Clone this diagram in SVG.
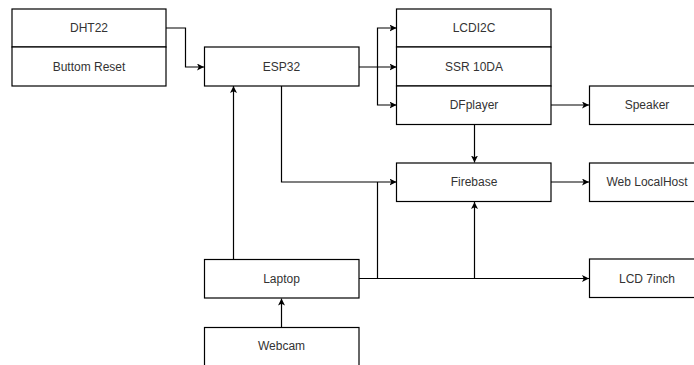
<svg xmlns="http://www.w3.org/2000/svg" width="694" height="365" viewBox="0 0 694 365">
<style>
.box{fill:#fff;stroke:#000;stroke-width:1.2}
.lbl{font-family:"Liberation Sans",Arial,sans-serif;font-size:12px;fill:#333;text-anchor:middle;dominant-baseline:central}
.c{fill:none;stroke:#000;stroke-width:1.2}
.a{fill:none;stroke:#000;stroke-width:1.2;marker-end:url(#arr)}
</style>
<defs>
<marker id="arr" viewBox="0 0 10 10" refX="10" refY="5" markerWidth="7" markerHeight="7" markerUnits="userSpaceOnUse" orient="auto">
<path d="M0,0 L10,5 L0,10 L2.5,5 Z" fill="#000"/>
</marker>
</defs>
<rect width="694" height="365" fill="#fff"/>
<g id="connectors">
<path class="a" d="M166,28 H185.5 V67 H204"/>
<path class="a" d="M359,67 H396.5"/>
<path class="a" d="M377.5,67 V28 H396.5"/>
<path class="a" d="M377.5,67 V105 H396.5"/>
<path class="a" d="M551,105 H589"/>
<path class="a" d="M474.5,124 V162.5"/>
<path class="a" d="M551,182 H589"/>
<path class="a" d="M281.5,86 V182 H396.5"/>
<path class="a" d="M233.5,259 V86"/>
<path class="a" d="M281.5,327 V298.5"/>
<path class="a" d="M359,278.5 H589"/>
<path class="c" d="M377.5,278.5 V182"/>
<path class="a" d="M474.5,278.5 V202"/>
</g>
<g id="dht22"><rect class="box" x="12" y="9" width="154" height="38"/><text class="lbl" x="89" y="28">DHT22</text></g>
<g id="buttom-reset"><rect class="box" x="12" y="47" width="154" height="39"/><text class="lbl" x="89" y="66.5">Buttom Reset</text></g>
<g id="esp32"><rect class="box" x="204.5" y="47" width="154.5" height="39"/><text class="lbl" x="281.5" y="66.5">ESP32</text></g>
<g id="lcdi2c"><rect class="box" x="396.5" y="9" width="154.5" height="38"/><text class="lbl" x="474" y="28">LCDI2C</text></g>
<g id="ssr"><rect class="box" x="396.5" y="47" width="154.5" height="39"/><text class="lbl" x="474" y="66.5">SSR 10DA</text></g>
<g id="dfplayer"><rect class="box" x="396.5" y="86" width="154.5" height="38.5"/><text class="lbl" x="474" y="105">DFplayer</text></g>
<g id="speaker"><rect class="box" x="589.5" y="86" width="120" height="38.5"/><text class="lbl" x="647" y="105">Speaker</text></g>
<g id="firebase"><rect class="box" x="396.5" y="163" width="154.5" height="38.5"/><text class="lbl" x="474" y="182">Firebase</text></g>
<g id="web"><rect class="box" x="589.5" y="163" width="120" height="38.5"/><text class="lbl" x="647" y="182">Web LocalHost</text></g>
<g id="lcd7"><rect class="box" x="589.5" y="259" width="120" height="38.5"/><text class="lbl" x="647" y="278.5">LCD 7inch</text></g>
<g id="laptop"><rect class="box" x="204.5" y="259.5" width="154.5" height="38.5"/><text class="lbl" x="281.5" y="278.5">Laptop</text></g>
<g id="webcam"><rect class="box" x="204.5" y="327.5" width="154.5" height="50"/><text class="lbl" x="281.5" y="346">Webcam</text></g>
</svg>
